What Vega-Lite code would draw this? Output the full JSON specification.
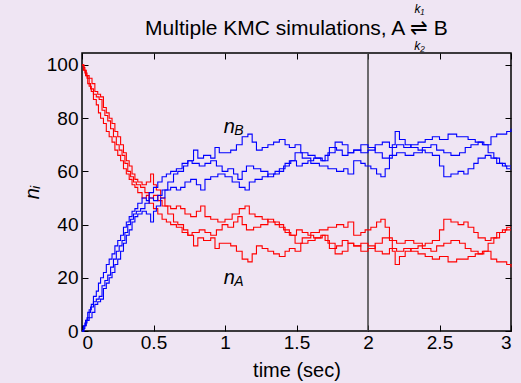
{
  "$schema": "https://vega.github.io/schema/vega-lite/v6.json",
  "width": 429,
  "height": 278,
  "autosize": "none",
  "padding": {"left": 82, "top": 53, "right": 10, "bottom": 52},
  "background": "#efe5f3",
  "title": {"text": "Multiple KMC simulations, A ⇌ B", "font": "Liberation Sans", "fontSize": 21, "fontWeight": "normal", "color": "black", "offset": -36},
  "datasets": {
    "sims": [
      {"s":1,"t":0,"a":100,"b":0},{"s":1,"t":0.01,"a":99,"b":1},{"s":1,"t":0.02,"a":97,"b":3},{"s":1,"t":0.035,"a":95,"b":5},{"s":1,"t":0.05,"a":92,"b":8},{"s":1,"t":0.065,"a":90,"b":10},{"s":1,"t":0.08,"a":87,"b":13},{"s":1,"t":0.1,"a":85,"b":15},{"s":1,"t":0.115,"a":82,"b":18},{"s":1,"t":0.13,"a":80,"b":20},{"s":1,"t":0.15,"a":78,"b":22},{"s":1,"t":0.17,"a":75,"b":25},{"s":1,"t":0.19,"a":73,"b":27},{"s":1,"t":0.21,"a":71,"b":29},{"s":1,"t":0.23,"a":68,"b":32},{"s":1,"t":0.25,"a":66,"b":34},{"s":1,"t":0.27,"a":64,"b":36},{"s":1,"t":0.29,"a":61,"b":39},{"s":1,"t":0.31,"a":59,"b":41},{"s":1,"t":0.33,"a":57,"b":43},{"s":1,"t":0.35,"a":55,"b":45},{"s":1,"t":0.37,"a":54,"b":46},{"s":1,"t":0.39,"a":52,"b":48},{"s":1,"t":0.42,"a":50,"b":50},{"s":1,"t":0.45,"a":51,"b":49},{"s":1,"t":0.47,"a":48,"b":52},{"s":1,"t":0.5,"a":46,"b":54},{"s":1,"t":0.53,"a":44,"b":56},{"s":1,"t":0.56,"a":42,"b":58},{"s":1,"t":0.59,"a":41,"b":59},{"s":1,"t":0.62,"a":40,"b":60},{"s":1,"t":0.66,"a":39,"b":61},{"s":1,"t":0.7,"a":37,"b":63},{"s":1,"t":0.74,"a":36,"b":64},{"s":1,"t":0.78,"a":32,"b":68},{"s":1,"t":0.81,"a":35,"b":65},{"s":1,"t":0.85,"a":34,"b":66},{"s":1,"t":0.9,"a":35,"b":65},{"s":1,"t":0.93,"a":31,"b":69},{"s":1,"t":0.96,"a":33,"b":67},{"s":1,"t":1.0,"a":33,"b":67},{"s":1,"t":1.04,"a":32,"b":68},{"s":1,"t":1.08,"a":30,"b":70},{"s":1,"t":1.12,"a":27,"b":73},{"s":1,"t":1.16,"a":26,"b":74},{"s":1,"t":1.19,"a":29,"b":71},{"s":1,"t":1.22,"a":32,"b":68},{"s":1,"t":1.26,"a":31,"b":69},{"s":1,"t":1.3,"a":30,"b":70},{"s":1,"t":1.34,"a":29,"b":71},{"s":1,"t":1.38,"a":28,"b":72},{"s":1,"t":1.42,"a":30,"b":70},{"s":1,"t":1.45,"a":31,"b":69},{"s":1,"t":1.49,"a":30,"b":70},{"s":1,"t":1.53,"a":33,"b":67},{"s":1,"t":1.58,"a":34,"b":66},{"s":1,"t":1.63,"a":35,"b":65},{"s":1,"t":1.68,"a":36,"b":64},{"s":1,"t":1.72,"a":33,"b":67},{"s":1,"t":1.77,"a":29,"b":71},{"s":1,"t":1.82,"a":30,"b":70},{"s":1,"t":1.86,"a":33,"b":67},{"s":1,"t":1.9,"a":32,"b":68},{"s":1,"t":1.95,"a":33,"b":67},{"s":1,"t":2.0,"a":32,"b":68},{"s":1,"t":2.05,"a":30,"b":70},{"s":1,"t":2.1,"a":29,"b":71},{"s":1,"t":2.15,"a":31,"b":69},{"s":1,"t":2.2,"a":30,"b":70},{"s":1,"t":2.25,"a":31,"b":69},{"s":1,"t":2.3,"a":30,"b":70},{"s":1,"t":2.35,"a":29,"b":71},{"s":1,"t":2.4,"a":28,"b":72},{"s":1,"t":2.45,"a":27,"b":73},{"s":1,"t":2.5,"a":28,"b":72},{"s":1,"t":2.56,"a":26,"b":74},{"s":1,"t":2.62,"a":27,"b":73},{"s":1,"t":2.7,"a":28,"b":72},{"s":1,"t":2.75,"a":29,"b":71},{"s":1,"t":2.8,"a":30,"b":70},{"s":1,"t":2.86,"a":27,"b":73},{"s":1,"t":2.9,"a":26,"b":74},{"s":1,"t":2.97,"a":25,"b":75},{"s":1,"t":3.0,"a":24,"b":76},
      {"s":2,"t":0,"a":100,"b":0},{"s":2,"t":0.015,"a":98,"b":2},{"s":2,"t":0.03,"a":96,"b":4},{"s":2,"t":0.05,"a":95,"b":5},{"s":2,"t":0.07,"a":93,"b":7},{"s":2,"t":0.09,"a":90,"b":10},{"s":2,"t":0.11,"a":89,"b":11},{"s":2,"t":0.13,"a":88,"b":12},{"s":2,"t":0.15,"a":84,"b":16},{"s":2,"t":0.17,"a":82,"b":18},{"s":2,"t":0.19,"a":80,"b":20},{"s":2,"t":0.21,"a":78,"b":22},{"s":2,"t":0.23,"a":75,"b":25},{"s":2,"t":0.25,"a":73,"b":27},{"s":2,"t":0.27,"a":70,"b":30},{"s":2,"t":0.29,"a":67,"b":33},{"s":2,"t":0.31,"a":64,"b":36},{"s":2,"t":0.33,"a":62,"b":38},{"s":2,"t":0.35,"a":59,"b":41},{"s":2,"t":0.37,"a":57,"b":43},{"s":2,"t":0.39,"a":56,"b":44},{"s":2,"t":0.42,"a":55,"b":45},{"s":2,"t":0.45,"a":56,"b":44},{"s":2,"t":0.48,"a":59,"b":41},{"s":2,"t":0.5,"a":55,"b":45},{"s":2,"t":0.52,"a":53,"b":47},{"s":2,"t":0.55,"a":50,"b":50},{"s":2,"t":0.58,"a":47,"b":53},{"s":2,"t":0.62,"a":46,"b":54},{"s":2,"t":0.66,"a":47,"b":53},{"s":2,"t":0.69,"a":46,"b":54},{"s":2,"t":0.72,"a":44,"b":56},{"s":2,"t":0.76,"a":43,"b":57},{"s":2,"t":0.8,"a":45,"b":55},{"s":2,"t":0.83,"a":47,"b":53},{"s":2,"t":0.86,"a":43,"b":57},{"s":2,"t":0.9,"a":42,"b":58},{"s":2,"t":0.95,"a":41,"b":59},{"s":2,"t":1.0,"a":42,"b":58},{"s":2,"t":1.05,"a":44,"b":56},{"s":2,"t":1.1,"a":46,"b":54},{"s":2,"t":1.14,"a":47,"b":53},{"s":2,"t":1.17,"a":44,"b":56},{"s":2,"t":1.21,"a":43,"b":57},{"s":2,"t":1.26,"a":42,"b":58},{"s":2,"t":1.3,"a":41,"b":59},{"s":2,"t":1.35,"a":40,"b":60},{"s":2,"t":1.41,"a":38,"b":62},{"s":2,"t":1.45,"a":36,"b":64},{"s":2,"t":1.49,"a":33,"b":67},{"s":2,"t":1.54,"a":35,"b":65},{"s":2,"t":1.6,"a":37,"b":63},{"s":2,"t":1.66,"a":38,"b":62},{"s":2,"t":1.72,"a":39,"b":61},{"s":2,"t":1.78,"a":40,"b":60},{"s":2,"t":1.83,"a":39,"b":61},{"s":2,"t":1.86,"a":41,"b":59},{"s":2,"t":1.9,"a":36,"b":64},{"s":2,"t":1.95,"a":37,"b":63},{"s":2,"t":1.98,"a":38,"b":62},{"s":2,"t":2.02,"a":39,"b":61},{"s":2,"t":2.06,"a":41,"b":59},{"s":2,"t":2.09,"a":42,"b":58},{"s":2,"t":2.12,"a":39,"b":61},{"s":2,"t":2.15,"a":35,"b":65},{"s":2,"t":2.17,"a":30,"b":70},{"s":2,"t":2.19,"a":25,"b":75},{"s":2,"t":2.22,"a":28,"b":72},{"s":2,"t":2.26,"a":30,"b":70},{"s":2,"t":2.3,"a":31,"b":69},{"s":2,"t":2.35,"a":32,"b":68},{"s":2,"t":2.4,"a":33,"b":67},{"s":2,"t":2.45,"a":34,"b":66},{"s":2,"t":2.5,"a":38,"b":62},{"s":2,"t":2.53,"a":42,"b":58},{"s":2,"t":2.58,"a":41,"b":59},{"s":2,"t":2.63,"a":40,"b":60},{"s":2,"t":2.67,"a":41,"b":59},{"s":2,"t":2.7,"a":39,"b":61},{"s":2,"t":2.74,"a":37,"b":63},{"s":2,"t":2.77,"a":35,"b":65},{"s":2,"t":2.82,"a":34,"b":66},{"s":2,"t":2.86,"a":35,"b":65},{"s":2,"t":2.9,"a":37,"b":63},{"s":2,"t":2.94,"a":38,"b":62},{"s":2,"t":2.97,"a":39,"b":61},{"s":2,"t":3.0,"a":39,"b":61},
      {"s":3,"t":0,"a":100,"b":0},{"s":3,"t":0.01,"a":98,"b":2},{"s":3,"t":0.025,"a":96,"b":4},{"s":3,"t":0.04,"a":93,"b":7},{"s":3,"t":0.06,"a":91,"b":9},{"s":3,"t":0.08,"a":89,"b":11},{"s":3,"t":0.1,"a":88,"b":12},{"s":3,"t":0.12,"a":87,"b":13},{"s":3,"t":0.14,"a":83,"b":17},{"s":3,"t":0.16,"a":81,"b":19},{"s":3,"t":0.18,"a":79,"b":21},{"s":3,"t":0.2,"a":76,"b":24},{"s":3,"t":0.22,"a":73,"b":27},{"s":3,"t":0.24,"a":70,"b":30},{"s":3,"t":0.26,"a":68,"b":32},{"s":3,"t":0.28,"a":66,"b":34},{"s":3,"t":0.3,"a":63,"b":37},{"s":3,"t":0.32,"a":60,"b":40},{"s":3,"t":0.34,"a":58,"b":42},{"s":3,"t":0.36,"a":56,"b":44},{"s":3,"t":0.38,"a":55,"b":45},{"s":3,"t":0.41,"a":54,"b":46},{"s":3,"t":0.44,"a":52,"b":48},{"s":3,"t":0.47,"a":50,"b":50},{"s":3,"t":0.5,"a":51,"b":49},{"s":3,"t":0.53,"a":49,"b":51},{"s":3,"t":0.56,"a":47,"b":53},{"s":3,"t":0.6,"a":44,"b":56},{"s":3,"t":0.64,"a":41,"b":59},{"s":3,"t":0.67,"a":40,"b":60},{"s":3,"t":0.71,"a":38,"b":62},{"s":3,"t":0.74,"a":36,"b":64},{"s":3,"t":0.77,"a":37,"b":63},{"s":3,"t":0.82,"a":38,"b":62},{"s":3,"t":0.86,"a":37,"b":63},{"s":3,"t":0.9,"a":36,"b":64},{"s":3,"t":0.94,"a":38,"b":62},{"s":3,"t":0.98,"a":40,"b":60},{"s":3,"t":1.02,"a":39,"b":61},{"s":3,"t":1.06,"a":41,"b":59},{"s":3,"t":1.09,"a":43,"b":57},{"s":3,"t":1.12,"a":40,"b":60},{"s":3,"t":1.15,"a":38,"b":62},{"s":3,"t":1.2,"a":39,"b":61},{"s":3,"t":1.25,"a":40,"b":60},{"s":3,"t":1.3,"a":42,"b":58},{"s":3,"t":1.34,"a":41,"b":59},{"s":3,"t":1.38,"a":39,"b":61},{"s":3,"t":1.42,"a":37,"b":63},{"s":3,"t":1.46,"a":36,"b":64},{"s":3,"t":1.5,"a":38,"b":62},{"s":3,"t":1.54,"a":37,"b":63},{"s":3,"t":1.58,"a":36,"b":64},{"s":3,"t":1.62,"a":35,"b":65},{"s":3,"t":1.67,"a":36,"b":64},{"s":3,"t":1.7,"a":34,"b":66},{"s":3,"t":1.73,"a":31,"b":69},{"s":3,"t":1.78,"a":32,"b":68},{"s":3,"t":1.82,"a":34,"b":66},{"s":3,"t":1.86,"a":33,"b":67},{"s":3,"t":1.9,"a":32,"b":68},{"s":3,"t":1.95,"a":30,"b":70},{"s":3,"t":2.0,"a":31,"b":69},{"s":3,"t":2.05,"a":33,"b":67},{"s":3,"t":2.1,"a":35,"b":65},{"s":3,"t":2.15,"a":34,"b":66},{"s":3,"t":2.2,"a":33,"b":67},{"s":3,"t":2.26,"a":34,"b":66},{"s":3,"t":2.32,"a":33,"b":67},{"s":3,"t":2.38,"a":31,"b":69},{"s":3,"t":2.44,"a":30,"b":70},{"s":3,"t":2.48,"a":32,"b":68},{"s":3,"t":2.53,"a":33,"b":67},{"s":3,"t":2.58,"a":34,"b":66},{"s":3,"t":2.64,"a":33,"b":67},{"s":3,"t":2.68,"a":31,"b":69},{"s":3,"t":2.72,"a":30,"b":70},{"s":3,"t":2.77,"a":29,"b":71},{"s":3,"t":2.81,"a":30,"b":70},{"s":3,"t":2.84,"a":33,"b":67},{"s":3,"t":2.88,"a":35,"b":65},{"s":3,"t":2.92,"a":37,"b":63},{"s":3,"t":2.96,"a":38,"b":62},{"s":3,"t":3.0,"a":38,"b":62}
    ],
    "labels": [
      {"t": 1.03, "v": 76.5, "main": "n", "sub": "B"},
      {"t": 1.03, "v": 20, "main": "n", "sub": "A"}
    ],
    "rates": [
      {"t": 2.36, "v": 121, "k": "k₁"},
      {"t": 2.36, "v": 107, "k": "k₂"}
    ],
    "marker": [{"t": 2}]
  },
  "layer": [
    {
      "data": {"name": "marker"},
      "mark": {"type": "rule", "color": "#404040", "strokeWidth": 1.5},
      "encoding": {
        "x": {"field": "t", "type": "quantitative", "scale": {"domain": [0, 3], "nice": false}, "axis": null}
      }
    },
    {
      "data": {"name": "sims"},
      "mark": {"type": "line", "interpolate": "step-after", "color": "#ff0000", "strokeWidth": 1.1},
      "encoding": {
        "x": {"field": "t", "type": "quantitative", "scale": {"domain": [0, 3], "nice": false},
              "axis": {"orient": "bottom", "values": [0, 0.5, 1, 1.5, 2, 2.5, 3], "format": "~g", "title": "time (sec)", "labelPadding": 8, "titlePadding": 8}},
        "y": {"field": "a", "type": "quantitative", "scale": {"domain": [0, 104.5], "nice": false, "zero": false},
              "axis": {"orient": "left", "values": [0, 20, 40, 60, 80, 100], "title": "nᵢ", "titleFontStyle": "italic", "labelPadding": 10, "titlePadding": 4}},
        "detail": {"field": "s", "type": "nominal"}
      }
    },
    {
      "data": {"name": "sims"},
      "mark": {"type": "line", "interpolate": "step-after", "color": "#0000ff", "strokeWidth": 1.1},
      "encoding": {
        "x": {"field": "t", "type": "quantitative", "axis": {"orient": "top", "values": [0, 0.5, 1, 1.5, 2, 2.5, 3], "labels": false, "title": null}},
        "y": {"field": "b", "type": "quantitative", "axis": {"orient": "right", "values": [0, 20, 40, 60, 80, 100], "labels": false, "title": null}},
        "detail": {"field": "s", "type": "nominal"}
      }
    },
    {
      "data": {"name": "labels"},
      "mark": {"type": "text", "font": "Liberation Sans", "fontSize": 20, "fontStyle": "italic", "align": "center", "baseline": "middle", "color": "black"},
      "encoding": {
        "x": {"field": "t", "type": "quantitative", "axis": null},
        "y": {"field": "v", "type": "quantitative", "axis": null},
        "text": {"field": "main"}
      }
    },
    {
      "data": {"name": "labels"},
      "mark": {"type": "text", "font": "Liberation Sans", "fontSize": 14, "fontStyle": "italic", "align": "left", "baseline": "middle", "dx": 5, "dy": 4, "color": "black"},
      "encoding": {
        "x": {"field": "t", "type": "quantitative", "axis": null},
        "y": {"field": "v", "type": "quantitative", "axis": null},
        "text": {"field": "sub"}
      }
    },
    {
      "data": {"name": "rates"},
      "mark": {"type": "text", "font": "Liberation Sans", "fontSize": 12, "fontStyle": "italic", "align": "center", "baseline": "middle", "color": "black"},
      "encoding": {
        "x": {"field": "t", "type": "quantitative", "axis": null},
        "y": {"field": "v", "type": "quantitative", "axis": null},
        "text": {"field": "k"}
      }
    }
  ],
  "resolve": {"axis": {"x": "independent", "y": "independent"}},
  "config": {
    "view": {"stroke": "black", "strokeWidth": 1.5},
    "axis": {"domain": false, "grid": false, "tickColor": "black", "tickSize": -6, "tickWidth": 1,
             "labelFont": "Liberation Sans", "labelFontSize": 19, "labelColor": "black",
             "titleFont": "Liberation Sans", "titleFontSize": 20, "titleColor": "black", "titleFontWeight": "normal"}
  }
}
